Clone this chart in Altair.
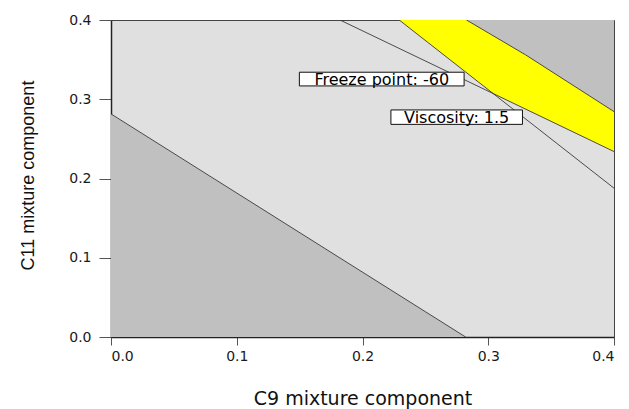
import altair as alt
import pandas as pd

# Lower-left dark region boundary (C9, C11)
low_x = [0.0, 0.282]
low_y = [0.2815, 0.0]

# Upper-right dark region boundary
up_x = [0.2827, 0.3298, 0.4]
up_y = [0.4, 0.3559, 0.2844]

# Yellow (feasible) region lower boundary
yel_x = [0.2292, 0.3034, 0.4]
yel_y = [0.4, 0.3076, 0.234]

# Contour lines
freeze_x = [0.1821, 0.4]
freeze_y = [0.4, 0.234]
visc_x = [0.2292, 0.4]
visc_y = [0.4, 0.1878]

# Annotation labels
lab_text = ["Freeze point: -60", "Viscosity: 1.5"]
lab_x = [0.2153, 0.2749]
lab_y = [0.3254, 0.2774]
lab_x1 = [0.1498, 0.2226]
lab_x2 = [0.2808, 0.3272]
lab_y1 = [0.3168, 0.2683]
lab_y2 = [0.3341, 0.2865]

ticks = [0.0, 0.1, 0.2, 0.3, 0.4]

xs = alt.Scale(domain=[0, 0.4], nice=False, zero=False)
ys = alt.Scale(domain=[0, 0.4], nice=False, zero=False)

xax = alt.Axis(values=ticks, format=".1f", grid=False, tickSize=8, labelPadding=4,
               labelFont="DejaVu Sans", labelFontSize=14, labelColor="#1a1a1a",
               tickColor="#555555", domainColor="#222222", domainWidth=1.5,
               title="C9 mixture component", titleFont="DejaVu Sans", titleFontSize=19,
               titleFontWeight="normal", titleColor="#111111",
               titleBaseline="alphabetic", titleY=67)
yax = alt.Axis(values=ticks, format=".1f", grid=False, tickSize=12, labelPadding=8,
               labelFont="DejaVu Sans", labelFontSize=14, labelColor="#1a1a1a",
               tickColor="#555555", domainColor="#222222", domainWidth=1.5,
               title="C11 mixture component", titleFont="Liberation Sans", titleFontSize=18,
               titleFontWeight="normal", titleColor="#111111",
               titleAngle=-90, titleBaseline="middle", titleAlign="center",
               titleX=-83, titleY=155)

low_df = pd.DataFrame({"x": low_x, "y": low_y})
up_df = pd.DataFrame({"x": up_x, "y": up_y})
yel_df = pd.DataFrame({"x": yel_x, "y": yel_y})
lines_df = pd.concat([
    pd.DataFrame({"x": freeze_x, "y": freeze_y, "k": "freeze"}),
    pd.DataFrame({"x": visc_x, "y": visc_y, "k": "visc"}),
    pd.DataFrame({"x": low_x, "y": low_y, "k": "low"}),
    pd.DataFrame({"x": up_x, "y": up_y, "k": "up"}),
])
lab_df = pd.DataFrame({"t": lab_text, "x": lab_x, "y": lab_y,
                       "x1": lab_x1, "x2": lab_x2, "y1": lab_y1, "y2": lab_y2})

low_area = alt.Chart(low_df).mark_area(color="#c0c0c0", clip=True).encode(
    x=alt.X("x:Q", scale=xs, axis=xax), y=alt.Y("y:Q", scale=ys, axis=yax),
    y2=alt.datum(0))
yel_area = alt.Chart(yel_df).mark_area(color="#ffff00", clip=True).encode(
    x=alt.X("x:Q", scale=xs), y=alt.Y("y:Q", scale=ys), y2=alt.datum(0.4))
up_area = alt.Chart(up_df).mark_area(color="#c0c0c0", clip=True).encode(
    x=alt.X("x:Q", scale=xs), y=alt.Y("y:Q", scale=ys), y2=alt.datum(0.4))
lines = alt.Chart(lines_df).mark_line(color="#3a3a3a", strokeWidth=0.9, clip=True).encode(
    x=alt.X("x:Q", scale=xs), y=alt.Y("y:Q", scale=ys), detail="k:N")
boxes = alt.Chart(lab_df).mark_rect(fill="white", stroke="#111111", strokeWidth=1).encode(
    x=alt.X("x1:Q", scale=xs), x2="x2:Q", y=alt.Y("y1:Q", scale=ys), y2="y2:Q")
texts = alt.Chart(lab_df).mark_text(font="DejaVu Sans", fontSize=16, color="#000000",
                                    align="center", baseline="middle", dy=1).encode(
    x=alt.X("x:Q", scale=xs), y=alt.Y("y:Q", scale=ys), text="t:N")

chart = alt.layer(low_area, yel_area, up_area, lines, boxes, texts).properties(
    width=503, height=317,
    background="white",
    autosize=alt.AutoSizeParams(type="none"),
    padding={"left": 111, "top": 20, "right": 15, "bottom": 72},
).configure_view(fill="#e0e0e0", stroke="#444444", strokeWidth=1)

chart.save("out.html", embed_options={"renderer": "svg", "actions": False})
